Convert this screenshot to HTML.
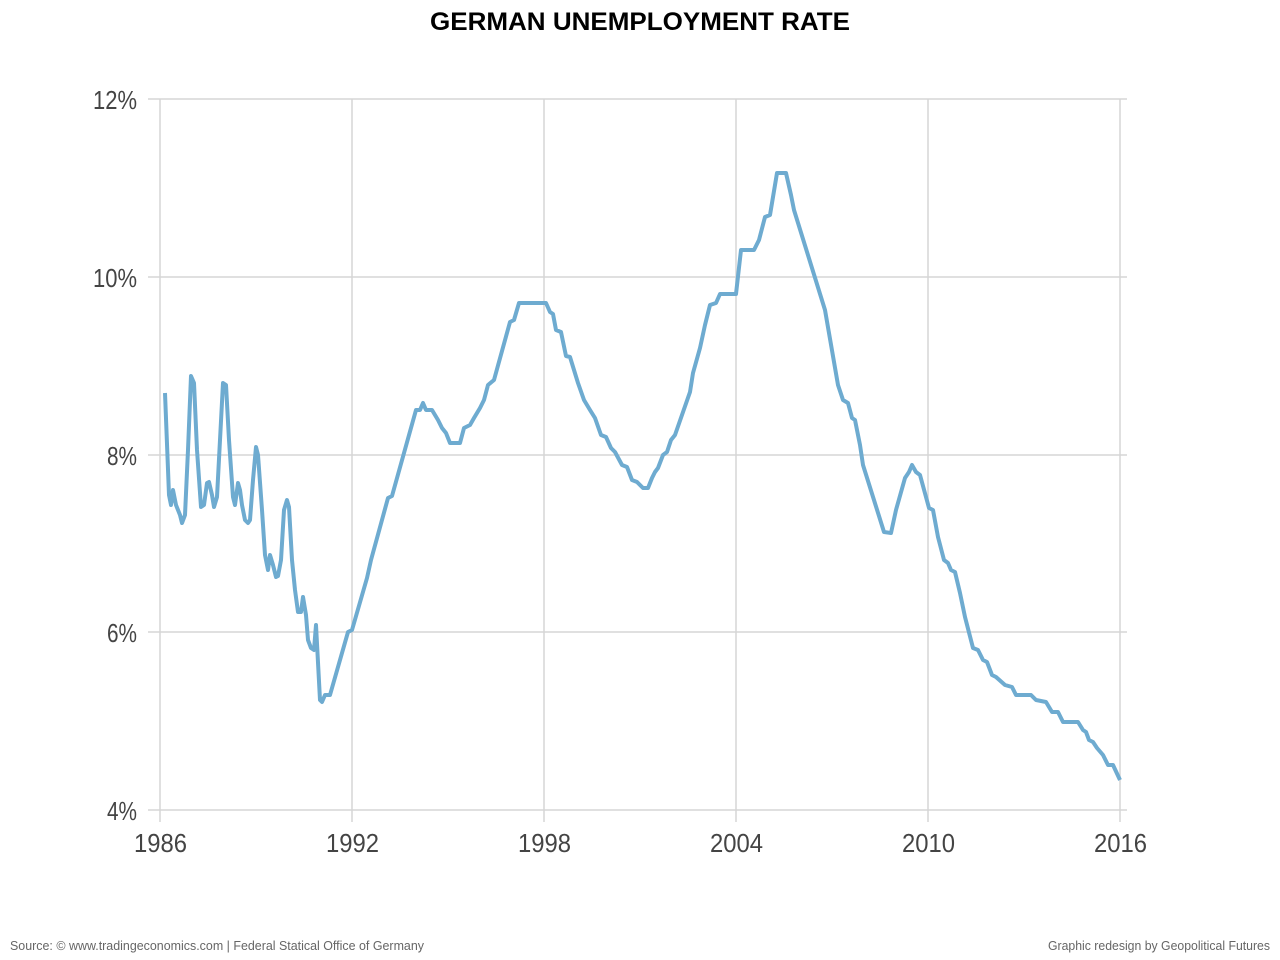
<!DOCTYPE html>
<html><head><meta charset="utf-8"><style>
body{margin:0;background:#fff;}
svg{display:block;font-family:"Liberation Sans Narrow","Liberation Sans",sans-serif;}
</style></head><body>
<svg width="1280" height="960" viewBox="0 0 1280 960">
<text x="430" y="30" font-family="Liberation Sans,sans-serif" font-weight="bold" font-size="25" fill="#000" textLength="420" lengthAdjust="spacingAndGlyphs">GERMAN UNEMPLOYMENT RATE</text>
<g stroke="#d6d6d6" stroke-width="1.5">
<line x1="148" y1="99" x2="1127" y2="99"/>
<line x1="148" y1="277" x2="1127" y2="277"/>
<line x1="148" y1="455" x2="1127" y2="455"/>
<line x1="148" y1="632" x2="1127" y2="632"/>
<line x1="148" y1="810" x2="1127" y2="810"/>
<line x1="160" y1="99" x2="160" y2="822"/>
<line x1="352" y1="99" x2="352" y2="822"/>
<line x1="544" y1="99" x2="544" y2="822"/>
<line x1="736" y1="99" x2="736" y2="822"/>
<line x1="928" y1="99" x2="928" y2="822"/>
<line x1="1120" y1="99" x2="1120" y2="822"/>
</g>
<g font-size="26" fill="#444" lengthAdjust="spacingAndGlyphs">
<text x="93" y="109" textLength="44" lengthAdjust="spacingAndGlyphs">12%</text>
<text x="93" y="287" textLength="44" lengthAdjust="spacingAndGlyphs">10%</text>
<text x="107" y="465" textLength="30" lengthAdjust="spacingAndGlyphs">8%</text>
<text x="107" y="642" textLength="30" lengthAdjust="spacingAndGlyphs">6%</text>
<text x="107" y="820" textLength="30" lengthAdjust="spacingAndGlyphs">4%</text>
<text x="134" y="852" textLength="53" lengthAdjust="spacingAndGlyphs">1986</text>
<text x="326" y="852" textLength="53" lengthAdjust="spacingAndGlyphs">1992</text>
<text x="518" y="852" textLength="53" lengthAdjust="spacingAndGlyphs">1998</text>
<text x="710" y="852" textLength="53" lengthAdjust="spacingAndGlyphs">2004</text>
<text x="902" y="852" textLength="53" lengthAdjust="spacingAndGlyphs">2010</text>
<text x="1094" y="852" textLength="53" lengthAdjust="spacingAndGlyphs">2016</text>
</g>
<polyline fill="none" stroke="#6eabd0" stroke-width="4" stroke-linejoin="round" points="165,393 169,495 171,505 173,490 176,505 180,515 182,523 185,515 188,450 191,376 194,383 197,450 201,507 204,505 207,483 209,482 212,495 214,507 217,497 220,440 223,383 226,385 229,440 233,497 235,505 238,483 240,490 242,505 245,520 248,523 250,520 253,480 256,447 258,455 262,510 265,555 268,570 270,555 273,565 276,577 278,576 281,560 284,510 287,500 289,507 292,560 295,590 298,612 301,612 303,597 306,615 308,640 311,648 314,650 316,625 320,700 322,702 325,695 330,695 348,632 352,630 367,578 371,560 388,498 392,496 416,410 420,410 423,403 426,410 432,410 438,420 442,428 446,433 450,443 460,443 464,428 470,425 474,418 480,408 484,400 488,385 494,380 510,322 514,320 519,303 546,303 550,312 553,314 556,330 561,332 566,356 570,357 578,383 584,400 590,410 595,418 601,435 606,437 611,448 615,452 622,465 627,467 632,480 637,482 643,488 648,488 652,478 655,472 658,468 663,455 667,452 671,440 675,435 690,392 693,373 700,348 705,325 710,305 716,303 720,294 736,294 741,250 754,250 759,240 765,217 770,215 773,197 777,173 786,173 791,195 794,210 825,310 838,385 843,400 848,403 852,418 855,420 860,445 863,465 884,532 891,533 896,510 905,478 909,472 912,465 916,472 920,475 929,508 933,510 938,537 944,560 948,563 951,570 955,572 960,593 965,617 973,648 978,650 983,660 987,662 992,675 996,677 1005,685 1012,687 1016,695 1031,695 1036,700 1046,702 1052,712 1058,712 1063,722 1078,722 1083,730 1086,732 1089,740 1093,742 1097,748 1103,755 1108,765 1113,765 1120,780"/>
<text x="10" y="950" font-size="13" fill="#666" textLength="414" lengthAdjust="spacingAndGlyphs">Source: © www.tradingeconomics.com | Federal Statical Office of Germany</text>
<text x="1048" y="950" font-size="13" fill="#666" textLength="222" lengthAdjust="spacingAndGlyphs">Graphic redesign by Geopolitical Futures</text>
</svg>
</body></html>
